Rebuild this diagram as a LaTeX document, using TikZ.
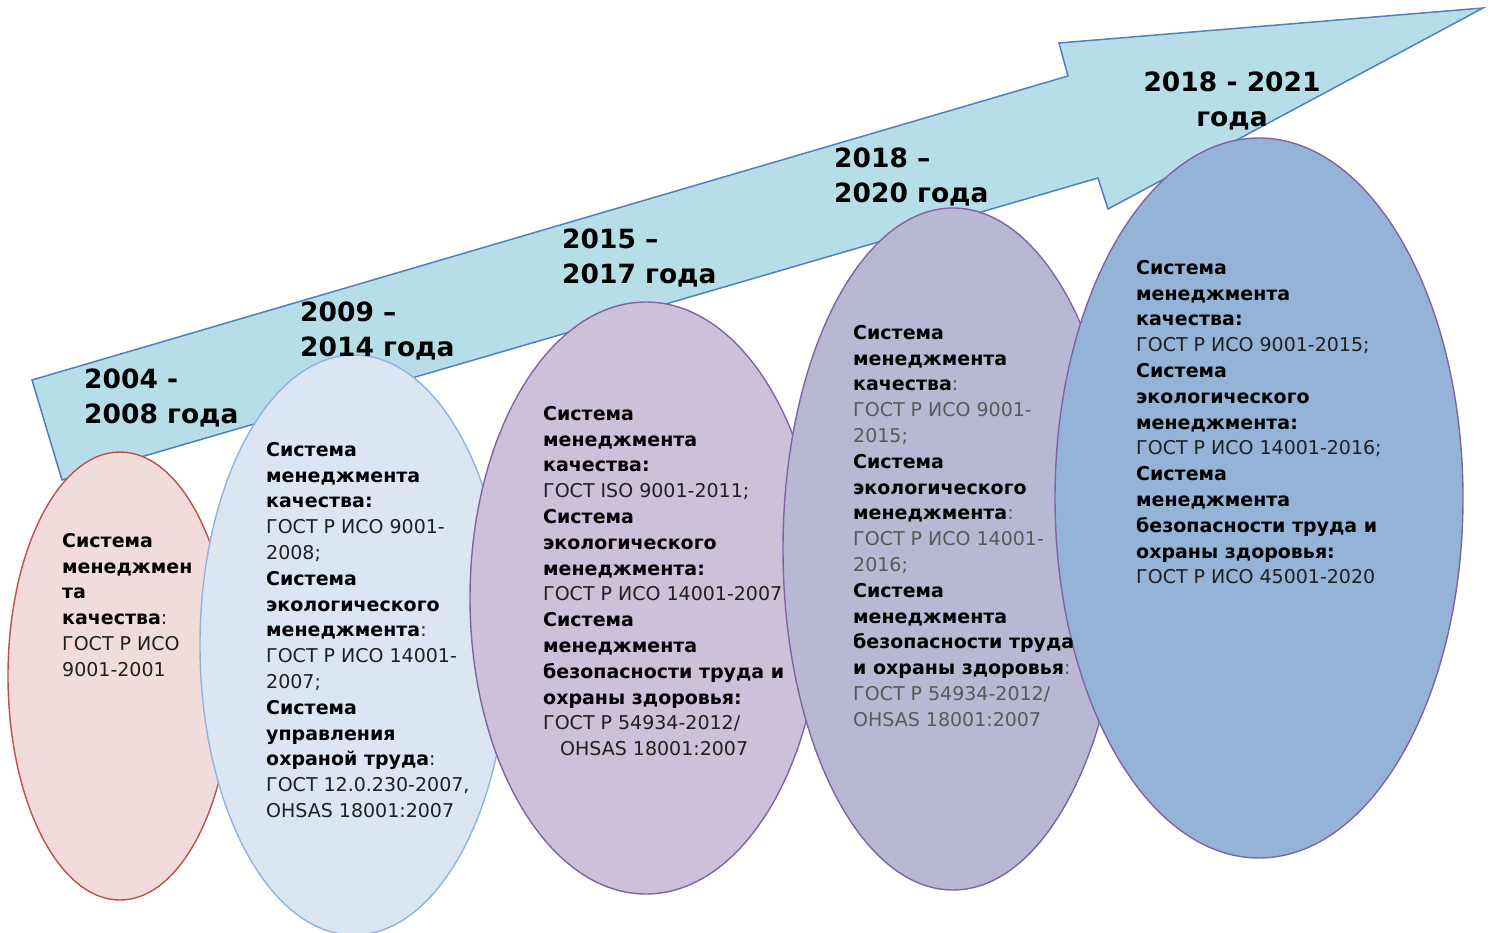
\documentclass[tikz,border=0pt]{standalone}
\usepackage{fontspec}
\setmainfont{DejaVu Sans}
\usetikzlibrary{shapes.geometric}
\definecolor{arrowfill}{HTML}{B7DEE8}
\definecolor{arrowline}{HTML}{4F81BD}
\definecolor{pinkfill}{HTML}{F2DCDB}
\definecolor{pinkline}{HTML}{C0504D}
\definecolor{lbfill}{HTML}{DCE6F2}
\definecolor{lbline}{HTML}{8DB3E2}
\definecolor{purfill}{HTML}{CCC0DA}
\definecolor{purline}{HTML}{8064A2}
\definecolor{lavfill}{HTML}{B8B8D4}
\definecolor{bluefill}{HTML}{95B3D7}
\definecolor{bodytext}{HTML}{1F1F1F}
\definecolor{graytext}{HTML}{595959}
\begin{document}
\begin{tikzpicture}[x=1pt,y=-1pt,
  ell/.style={ellipse, draw, line width=1.4pt, inner sep=0pt},
  body/.style={anchor=north west, inner sep=0pt, align=left, text=bodytext,
    font=\fontsize{19}{25.8}\selectfont},
  yearlbl/.style={anchor=north west, inner sep=0pt, align=left, text=black,
    font=\fontsize{26.5}{35}\selectfont\bfseries}]
\useasboundingbox (0,0) rectangle (1494,933);
% arrow
\coordinate (t1) at (32,380);
\coordinate (n1) at (1068,76);
\coordinate (b1) at (1059,43);
\coordinate (tip) at (1483,8);
\coordinate (b2) at (1108,209);
\coordinate (n2) at (1098,178);
\coordinate (t2) at (62,480);
\draw[fill=arrowfill, draw=arrowline, line width=1.5pt, line join=miter]
  (t1) -- (n1) -- (b1) -- (tip) -- (b2) -- (n2) -- (t2) -- cycle;
% ellipses
\node[ell, fill=pinkfill, draw=pinkline, minimum width=224pt, minimum height=448pt] (e1) at (120,676) {};
\node[ell, fill=lbfill, draw=lbline, minimum width=308pt, minimum height=580pt] (e2) at (354,645) {};
\node[ell, fill=purfill, draw=purline, minimum width=352pt, minimum height=592pt] (e3) at (646,598) {};
\node[ell, fill=lavfill, draw=purline, minimum width=340pt, minimum height=682pt] (e4) at (953,549) {};
\node[ell, fill=bluefill, draw=purline, minimum width=408pt, minimum height=720pt] (e5) at (1259,498) {};
% texts
\node[body] (x1) at (62,533) {\textbf{\color{black}Система}\\\textbf{\color{black}менеджмен}\\\textbf{\color{black}та}\\\textbf{\color{black}качества}:\\ГОСТ Р ИСО\\9001-2001};
\node[body] (x2) at (266,442) {\textbf{\color{black}Система}\\\textbf{\color{black}менеджмента}\\\textbf{\color{black}качества:}\\ГОСТ Р ИСО 9001-\\2008;\\\textbf{\color{black}Система}\\\textbf{\color{black}экологического}\\\textbf{\color{black}менеджмента}:\\ГОСТ Р ИСО 14001-\\2007;\\\textbf{\color{black}Система}\\\textbf{\color{black}управления}\\\textbf{\color{black}охраной труда}:\\ГОСТ 12.0.230-2007,\\OHSAS 18001:2007};
\node[body] (x3) at (543,406) {\textbf{\color{black}Система}\\\textbf{\color{black}менеджмента}\\\textbf{\color{black}качества:}\\ГОСТ ISO 9001-2011;\\\textbf{\color{black}Система}\\\textbf{\color{black}экологического}\\\textbf{\color{black}менеджмента:}\\ГОСТ Р ИСО 14001-2007\\\textbf{\color{black}Система}\\\textbf{\color{black}менеджмента}\\\textbf{\color{black}безопасности труда и}\\\textbf{\color{black}охраны здоровья:}\\ГОСТ Р 54934-2012/\\\hspace*{17pt}OHSAS 18001:2007};
\node[body, text=graytext] (x4) at (853,325) {\textbf{\color{black}Система}\\\textbf{\color{black}менеджмента}\\\textbf{\color{black}качества}:\\ГОСТ Р ИСО 9001-\\2015;\\\textbf{\color{black}Система}\\\textbf{\color{black}экологического}\\\textbf{\color{black}менеджмента}:\\ГОСТ Р ИСО 14001-\\2016;\\\textbf{\color{black}Система}\\\textbf{\color{black}менеджмента}\\\textbf{\color{black}безопасности труда}\\\textbf{\color{black}и охраны здоровья}:\\ГОСТ Р 54934-2012/\\OHSAS 18001:2007};
\node[body] (x5) at (1136,260) {\textbf{\color{black}Система}\\\textbf{\color{black}менеджмента}\\\textbf{\color{black}качества:}\\ГОСТ Р ИСО 9001-2015;\\\textbf{\color{black}Система}\\\textbf{\color{black}экологического}\\\textbf{\color{black}менеджмента:}\\ГОСТ Р ИСО 14001-2016;\\\textbf{\color{black}Система}\\\textbf{\color{black}менеджмента}\\\textbf{\color{black}безопасности труда и}\\\textbf{\color{black}охраны здоровья:}\\ГОСТ Р ИСО 45001-2020};
% year labels
\node[yearlbl] (y1) at (84,369) {2004 -\\2008 года};
\node[yearlbl] (y2) at (300,302) {2009 –\\2014 года};
\node[yearlbl] (y3) at (562,229) {2015 –\\2017 года};
\node[yearlbl] (y4) at (834,148) {2018 –\\2020 года};
\node[yearlbl, anchor=north, align=center] (y5) at (1232,72) {2018 - 2021\\года};
\end{tikzpicture}
\end{document}
